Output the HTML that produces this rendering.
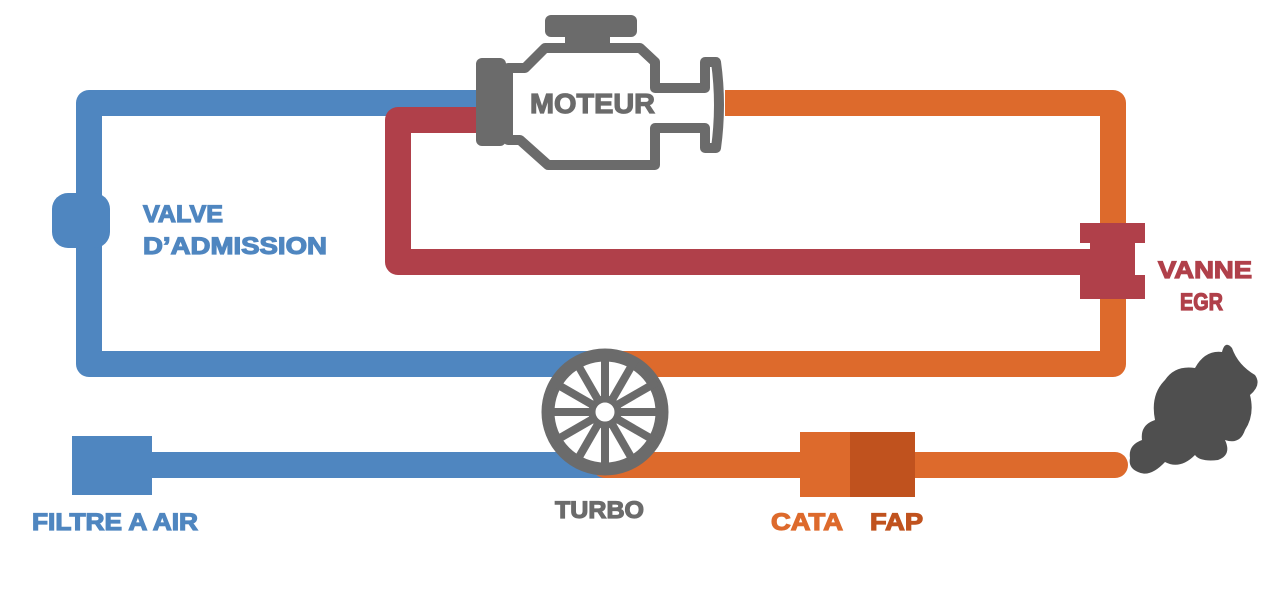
<!DOCTYPE html>
<html><head><meta charset="utf-8"><style>
html,body{margin:0;padding:0;background:#fff}
svg text{font-family:"Liberation Sans Narrow","Liberation Sans",sans-serif;font-weight:bold;stroke-width:1.2;paint-order:stroke}
</style></head><body>
<svg width="1280" height="609" viewBox="0 0 1280 609" xmlns="http://www.w3.org/2000/svg">
<g fill="none" stroke-width="26" stroke-linejoin="round">
<path d="M480 103 H89 V364 H605" stroke="#4f86c0"/>
<path d="M480 120 H398 V262 H1095" stroke="#b0404a"/>
<path d="M725 103 H1113 V364 H605" stroke="#dd6a2c"/>
<path d="M150 465 H605" stroke="#4f86c0"/>
<path d="M605 465 H1115" stroke="#dd6a2c" stroke-linecap="round"/>
</g>
<rect x="52" y="193" width="58" height="55" rx="16" fill="#4f86c0"/>
<rect x="72" y="436" width="80" height="59" fill="#4f86c0"/>
<rect x="800" y="432" width="52" height="65" fill="#dd6a2c"/>
<rect x="850" y="432" width="65" height="65" fill="#c0521e"/>
<path d="M1080 223 H1145 V243 H1135 V275 H1145 V299 H1080 V275 H1090 V243 H1080 Z" fill="#b0404a"/>
<g fill="#6b6b6b">
<rect x="545" y="15" width="92" height="22" rx="6"/>
<rect x="565" y="30" width="45" height="18"/>
<rect x="476" y="58" width="30" height="88" rx="6"/>
</g>
<path d="M545 48 H640 L655 62 V88 H705 V62 H716 Q722 105 716 148 H705 V128 H655 V165 H548 L520 140 H508 V68 H525 Z" fill="none" stroke="#6b6b6b" stroke-width="10" stroke-linejoin="round"/>
<text x="530" y="113" font-size="28" fill="#6b6b6b" stroke="#6b6b6b" textLength="125" lengthAdjust="spacingAndGlyphs">MOTEUR</text>
<g stroke="#6b6b6b">
<circle cx="605" cy="412" r="57" fill="#fff" stroke-width="13"/>
<g stroke-width="8">
<line x1="605" y1="412" x2="605" y2="352"/>
<line x1="605" y1="412" x2="635" y2="360"/>
<line x1="605" y1="412" x2="657" y2="382"/>
<line x1="605" y1="412" x2="665" y2="412"/>
<line x1="605" y1="412" x2="657" y2="442"/>
<line x1="605" y1="412" x2="635" y2="464"/>
<line x1="605" y1="412" x2="605" y2="472"/>
<line x1="605" y1="412" x2="575" y2="464"/>
<line x1="605" y1="412" x2="553" y2="442"/>
<line x1="605" y1="412" x2="545" y2="412"/>
<line x1="605" y1="412" x2="553" y2="382"/>
<line x1="605" y1="412" x2="575" y2="360"/>
</g>
<circle cx="605" cy="412" r="13" fill="#fff" stroke-width="7"/>
</g>
<path d="M1130 458 Q1128 445 1142 440 Q1140 425 1155 420 Q1150 395 1165 380 Q1175 365 1195 368 Q1205 350 1222 352 Q1225 340 1232 348 Q1238 365 1255 375 Q1262 385 1250 395 Q1255 415 1245 430 Q1240 445 1225 440 Q1232 455 1218 460 Q1200 462 1195 455 Q1180 470 1165 462 Q1150 478 1138 472 Q1128 468 1130 458 Z" fill="#4f4f4f"/>
<g font-size="24">
<text x="143" y="222" fill="#4f86c0" stroke="#4f86c0" textLength="80" lengthAdjust="spacingAndGlyphs">VALVE</text>
<text x="143" y="254" fill="#4f86c0" stroke="#4f86c0" textLength="184" lengthAdjust="spacingAndGlyphs">D’ADMISSION</text>
<text x="1158" y="278" fill="#b0404a" stroke="#b0404a" textLength="94" lengthAdjust="spacingAndGlyphs">VANNE</text>
<text x="1180" y="310" fill="#b0404a" stroke="#b0404a" textLength="43" lengthAdjust="spacingAndGlyphs">EGR</text>
<text x="32" y="530" fill="#4f86c0" stroke="#4f86c0" textLength="166" lengthAdjust="spacingAndGlyphs">FILTRE A AIR</text>
<text x="555" y="518" fill="#6b6b6b" stroke="#6b6b6b" textLength="89" lengthAdjust="spacingAndGlyphs">TURBO</text>
<text x="771" y="530" fill="#dd6a2c" stroke="#dd6a2c" textLength="72" lengthAdjust="spacingAndGlyphs">CATA</text>
<text x="870" y="530" fill="#c0521e" stroke="#c0521e" textLength="53" lengthAdjust="spacingAndGlyphs">FAP</text>
</g>
</svg>
</body></html>
